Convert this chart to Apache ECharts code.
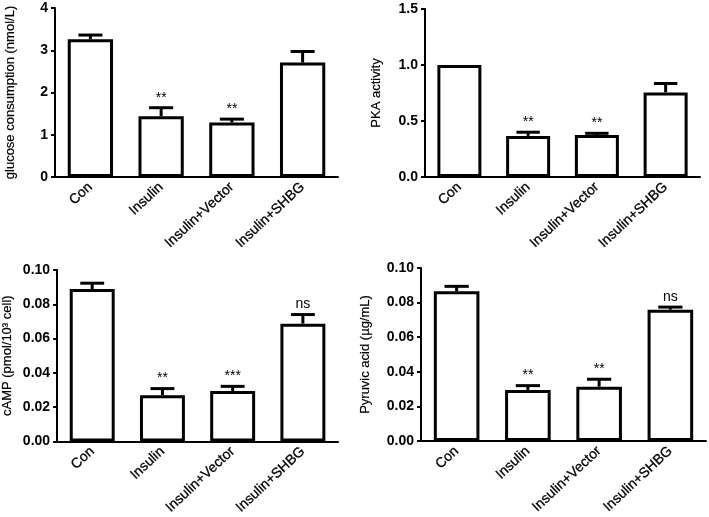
<!DOCTYPE html>
<html><head><meta charset="utf-8">
<script src="https://cdn.jsdelivr.net/npm/echarts@6/dist/echarts.min.js"></script>
<style>html,body{margin:0;padding:0;background:#fff}#c{width:709px;height:517px}</style>
</head><body><div id="c"></div>
<script>
var categories = ['Con', 'Insulin', 'Insulin+Vector', 'Insulin+SHBG'];

var glucose = [3.26, 1.44, 1.29, 2.71];
var glucoseErr = [0.10, 0.20, 0.08, 0.26];
var glucoseSig = ['', '**', '**', ''];

var pka = [1.00, 0.367, 0.376, 0.755];
var pkaErr = [0, 0.033, 0.014, 0.08];
var pkaSig = ['', '**', '**', ''];

var camp = [0.0889, 0.0269, 0.0294, 0.0687];
var campErr = [0.0034, 0.0039, 0.0027, 0.0053];
var campSig = ['', '**', '***', 'ns'];

var pyruvic = [0.0865, 0.0295, 0.0314, 0.0759];
var pyruvicErr = [0.0029, 0.0025, 0.0043, 0.0015];
var pyruvicSig = ['', '**', '**', 'ns'];

var yTitles = ['glucose consumption (nmol/L)', 'PKA activity', 'cAMP (pmol/10\u00B3 cell)', 'Pyruvic acid (\u00B5g/mL)'];
var yMax = [4, 1.5, 0.10, 0.10];
var yInterval = [1, 0.5, 0.02, 0.02];
var yDecimals = [0, 1, 2, 2];

var panels = [
  {vals: glucose, err: glucoseErr, sig: glucoseSig},
  {vals: pka, err: pkaErr, sig: pkaSig},
  {vals: camp, err: campErr, sig: campSig},
  {vals: pyruvic, err: pyruvicErr, sig: pyruvicSig}
];

var FONT = 'Liberation Sans, Arial, sans-serif';
var grids = [
  {left: 55, width: 283, top: 8, height: 169},
  {left: 425, width: 275, top: 9, height: 168},
  {left: 55, width: 283, top: 270, height: 173},
  {left: 421, width: 285, top: 268, height: 173}
];
var nameGaps = [38, 42, 43, 49];

var xAxes = [], yAxes = [], series = [];
panels.forEach(function (p, i) {
  xAxes.push({
    type: 'category', gridIndex: i, data: categories,
    axisLine: {lineStyle: {color: '#000', width: 2}},
    axisTick: {alignWithLabel: true, length: 4, lineStyle: {color: '#000', width: 2}},
    axisLabel: {rotate: 43, color: '#000', fontSize: 14, fontFamily: FONT, margin: 8,
      textBorderColor: '#000', textBorderWidth: 0.3}
  });
  yAxes.push({
    type: 'value', gridIndex: i, min: 0, max: yMax[i], interval: yInterval[i],
    name: yTitles[i], nameLocation: 'middle', nameGap: nameGaps[i],
    nameTextStyle: {color: '#000', fontSize: 13, fontFamily: FONT, textBorderColor: '#000', textBorderWidth: 0.2},
    axisLine: {show: true, lineStyle: {color: '#000', width: 2}},
    axisTick: {show: true, length: 4, lineStyle: {color: '#000', width: 2}},
    splitLine: {show: false},
    axisLabel: {color: '#000', fontSize: 14, fontWeight: 'bold', fontFamily: FONT, margin: 7,
      formatter: (function (d) { return function (v) { return v.toFixed(d); }; })(yDecimals[i])}
  });
  series.push({
    type: 'bar', xAxisIndex: i, yAxisIndex: i, data: p.vals, barWidth: '64%',
    itemStyle: {color: '#fff', borderColor: '#000', borderWidth: 3},
    z: 3
  });
  var edata = p.vals.map(function (v, k) { return [k, v, v + p.err[k], p.sig[k]]; });
  series.push({
    type: 'custom', xAxisIndex: i, yAxisIndex: i, data: edata, z: 4,
    renderItem: function (params, api) {
      var idx = api.value(0);
      var base = api.coord([idx, api.value(1)]);
      var top = api.coord([idx, api.value(2)]);
      var half = api.size([1, 0])[0] * 0.17;
      var children = [];
      if (Math.abs(top[1] - base[1]) > 0.5) {
        children.push({type: 'line', shape: {x1: base[0], y1: base[1], x2: top[0], y2: top[1]},
          style: {stroke: '#000', lineWidth: 3}});
        children.push({type: 'line', shape: {x1: top[0] - half, y1: top[1], x2: top[0] + half, y2: top[1]},
          style: {stroke: '#000', lineWidth: 3}});
      }
      var s = edata[params.dataIndex][3];
      if (s) {
        children.push({type: 'text', style: {text: s, x: top[0], y: top[1] - 3,
          align: 'center', verticalAlign: 'bottom', fontSize: 14, fontFamily: FONT, fill: '#000'}});
      }
      return {type: 'group', children: children};
    }
  });
});

var chart = echarts.init(document.getElementById('c'));
chart.setOption({
  animation: false,
  grid: grids,
  xAxis: xAxes,
  yAxis: yAxes,
  series: series
});
</script>
</body></html>
